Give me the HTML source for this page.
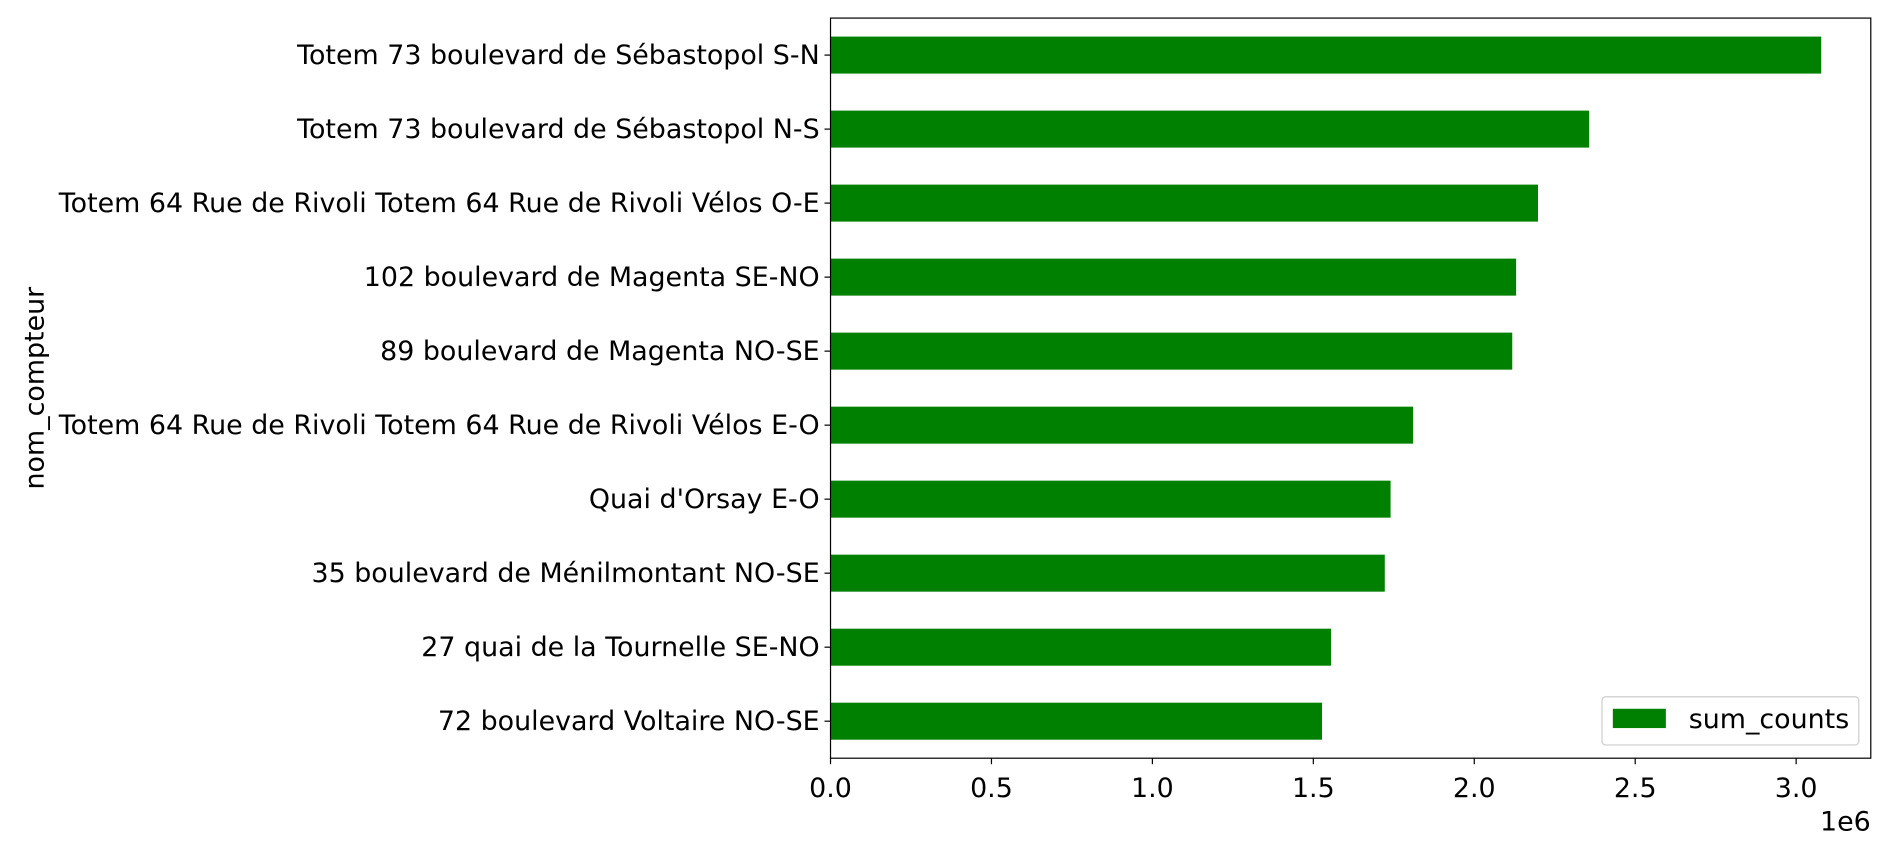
<!DOCTYPE html>
<html><head><meta charset="utf-8"><style>
body{margin:0;background:#fff;}
svg text{font-family:"DejaVu Sans","Liberation Sans",sans-serif;font-size:22.3px;fill:#000;}
</style></head><body>
<svg width="1890" height="856" xmlns="http://www.w3.org/2000/svg"><g id="chart" transform="scale(1.2054)"></g></svg>
<script>
const categories=["Totem 73 boulevard de Sébastopol S-N","Totem 73 boulevard de Sébastopol N-S","Totem 64 Rue de Rivoli Totem 64 Rue de Rivoli Vélos O-E","102 boulevard de Magenta SE-NO","89 boulevard de Magenta NO-SE","Totem 64 Rue de Rivoli Totem 64 Rue de Rivoli Vélos E-O","Quai d'Orsay E-O","35 boulevard de Ménilmontant NO-SE","27 quai de la Tournelle SE-NO","72 boulevard Voltaire NO-SE"];
const sumCounts=[3078000,2357000,2198000,2130000,2118000,1810000,1740000,1722000,1555000,1527000];
const xTicks=[0,0.5,1.0,1.5,2.0,2.5,3.0];
const xTickLabels=["0.0","0.5","1.0","1.5","2.0","2.5","3.0"];
const NS="http://www.w3.org/2000/svg";
const svg=document.getElementById('chart');
const L=689,R=1552,T=15,B=629;
const xmax=Math.max(...sumCounts)*1.05;
const x=v=>L+(v/xmax)*(R-L);
const step=(B-T)/categories.length;
const y=i=>T+step*(i+0.5);
function mk(tag,attrs){const e=document.createElementNS(NS,tag);for(const k in attrs)e.setAttribute(k,attrs[k]);svg.appendChild(e);return e;}
categories.forEach((c,i)=>{
 const r=mk('rect',{x:L,y:y(i)-step*0.25,width:x(sumCounts[i])-L,height:step*0.5,fill:'#008000'});
 
 
 mk('line',{x1:L-5,x2:L,y1:y(i),y2:y(i),stroke:'#000','stroke-width':1});
 const lb=mk('text',{x:L-9,y:y(i)+7.5,'text-anchor':'end'});lb.textContent=c;
 
 
});
xTicks.forEach((v,i)=>{
 const px=x(v*1e6);
 mk('line',{x1:px,x2:px,y1:B,y2:B+5,stroke:'#000','stroke-width':1});
 const lb=mk('text',{x:px,y:661,'text-anchor':'middle'});lb.textContent=xTickLabels[i];
 
 
});
const fr=mk('rect',{x:L,y:T,width:R-L,height:B-T,fill:'none',stroke:'#000','stroke-width':1});


const off=mk('text',{x:R,y:689,'text-anchor':'end'});off.textContent='1e6';


const yl=mk('text',{x:0,y:0,'text-anchor':'middle',transform:'translate(36,322) rotate(-90)'});yl.textContent='nom_compteur';


const lg=mk('rect',{x:1329,y:578,width:213,height:40,rx:3,fill:'#fff',stroke:'#d5d5d5','stroke-width':1.2});


mk('rect',{x:1338,y:588,width:44,height:16,fill:'#008000'});
const lt=mk('text',{x:1401,y:604});lt.textContent='sum_counts';


</script>
</body></html>
